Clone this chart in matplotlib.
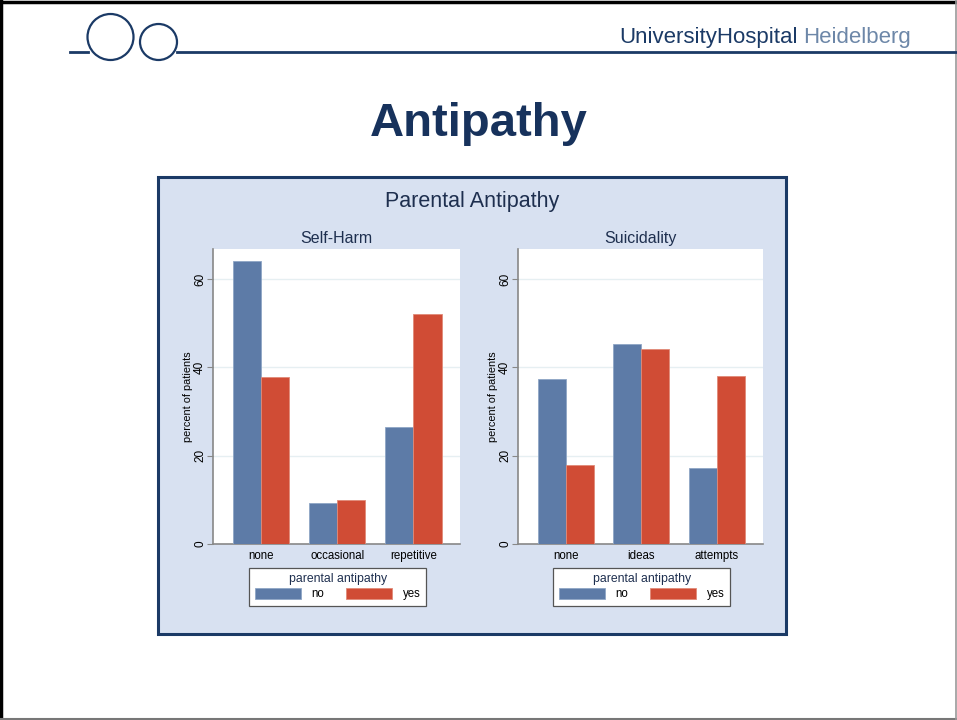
import numpy as np
import matplotlib
matplotlib.use("Agg")
import matplotlib.pyplot as plt
from matplotlib.patches import Rectangle, Ellipse

# data (percent of patients)
harm_cats = ["none", "occasional", "repetitive"]
harm_no = [64.0, 9.3, 26.5]
harm_yes = [37.8, 10.0, 52.0]

suic_cats = ["none", "ideas", "attempts"]
suic_no = [37.3, 45.2, 17.2]
suic_yes = [17.9, 44.1, 38.0]

yticks = [0, 20, 40, 60]
legend_title = "parental antipathy"
legend_labels = ["no", "yes"]

BLUE = "#5d7ba7"
RED = "#d04c35"
PANEL = "#d8e1f1"
NAVY = "#1b3a66"
TXT = "#1e2f4f"

plt.rcParams["font.family"] = ["Liberation Sans", "DejaVu Sans"]

fig = plt.figure(figsize=(9.57, 7.2), dpi=100)

# slide decoration layer in pixel coordinates
deco = fig.add_axes([0, 0, 1, 1])
deco.set_xlim(0, 957)
deco.set_ylim(720, 0)
deco.axis("off")
deco.plot([1, 1], [0, 720], color="black", lw=2.5)
deco.plot([0, 957], [2, 2], color="black", lw=2.5)
deco.plot([0, 957], [719, 719], color="#777777", lw=1.5)
deco.plot([956, 956], [0, 720], color="#999999", lw=1.2)
deco.plot([70, 88], [52, 52], color=NAVY, lw=2)
deco.plot([177, 957], [52, 52], color=NAVY, lw=2)
deco.add_patch(Ellipse((110.5, 37), 46, 46, fill=False, ec=NAVY, lw=1.6))
deco.add_patch(Ellipse((158.5, 42), 37, 36, fill=False, ec=NAVY, lw=1.6))
deco.text(798, 37, "UniversityHospital", fontsize=16, color=NAVY, va="center", ha="right")
deco.text(803, 37, "Heidelberg", fontsize=16, color="#6d87a8", va="center", ha="left")
deco.text(479, 124, "Antipathy", fontsize=34, fontweight="bold", color="#17325c",
          ha="center", va="center")

# chart panel
deco.add_patch(Rectangle((158, 177), 628, 457, fc=PANEL, ec=NAVY, lw=2.2))
deco.text(472, 202, "Parental Antipathy", fontsize=15.5, color=TXT, ha="center", va="center")


def draw(rect, cats, no, yes, title):
    ax = fig.add_axes(rect)
    x = np.arange(len(cats))
    w = 0.37
    ax.bar(x - w / 2, no, w, color=BLUE, edgecolor="#8fa6c6", lw=0.6, label=legend_labels[0], zorder=3)
    ax.bar(x + w / 2, yes, w, color=RED, edgecolor="#e08a78", lw=0.6, label=legend_labels[1], zorder=3)
    ax.set_xlim(-0.63, 2.61)
    ax.set_ylim(0, 66.8)
    ax.set_yticks(yticks)
    ax.set_yticklabels([str(t) for t in yticks], rotation=90, va="center", fontsize=8.5)
    ax.set_xticks(x)
    ax.set_xticklabels(cats, fontsize=8.3)
    ax.tick_params(axis="x", length=0, pad=4)
    ax.tick_params(axis="y", length=4, color="#888888", pad=1)
    ax.grid(axis="y", color="#e6eff2", lw=1, zorder=0)
    for s in ["top", "right"]:
        ax.spines[s].set_visible(False)
    for s in ["left", "bottom"]:
        ax.spines[s].set_color("#888888")
        ax.spines[s].set_linewidth(1.2)
    ax.set_ylabel("percent of patients", fontsize=7.8, labelpad=1)
    ax.set_title(title, fontsize=11.5, color=TXT, pad=4)
    leg = ax.legend(loc="upper center", bbox_to_anchor=(0.505, -0.08), ncol=2,
                    title=legend_title, fontsize=8.3, title_fontsize=8.8,
                    frameon=True, fancybox=False, framealpha=1,
                    handlelength=4.0, handleheight=1.2,
                    columnspacing=1.9, handletextpad=0.9, borderpad=0.5,
                    labelspacing=0.2, borderaxespad=0)
    leg.get_frame().set_edgecolor("#555555")
    leg.get_frame().set_linewidth(0.9)
    leg.get_title().set_color(TXT)
    return ax


draw([213 / 957, 1 - 544 / 720, 247 / 957, 295 / 720], harm_cats, harm_no, harm_yes, "Self-Harm")
draw([518 / 957, 1 - 544 / 720, 245 / 957, 295 / 720], suic_cats, suic_no, suic_yes, "Suicidality")

fig.savefig("out.png", dpi=100, facecolor="white")
